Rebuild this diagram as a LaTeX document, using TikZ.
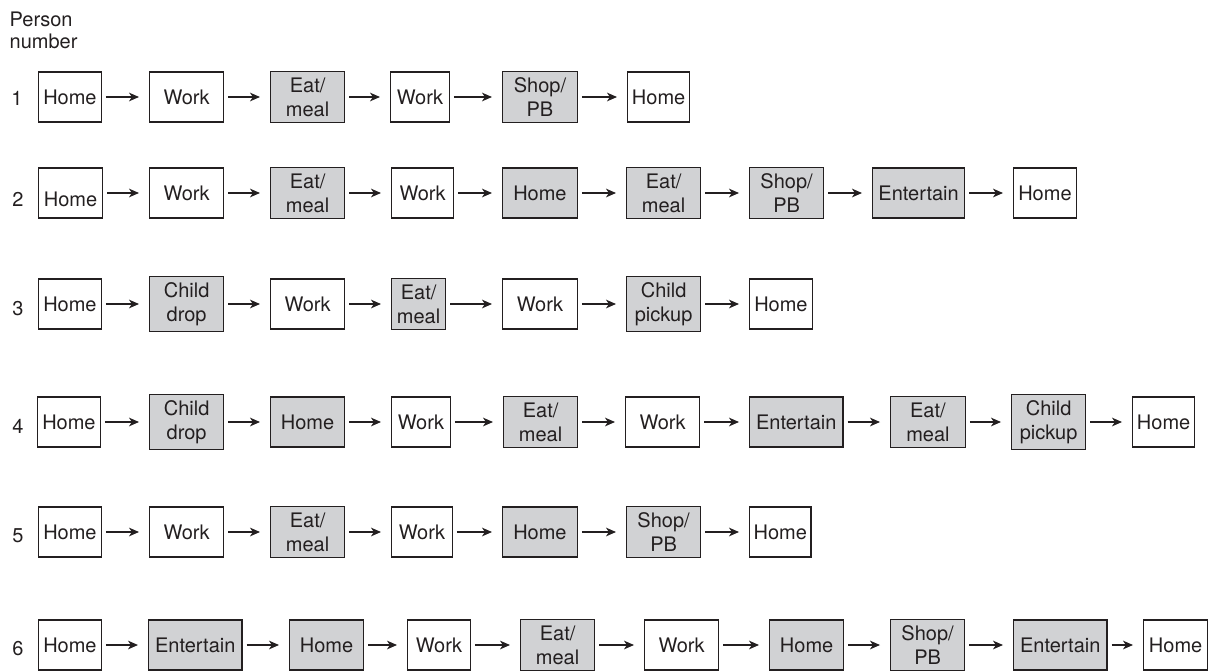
\documentclass[tikz,border=0pt]{standalone}
\usepackage{fontspec}
\setmainfont{TeX Gyre Heros}
\usepackage{tikz}
\usetikzlibrary{arrows.meta}

\definecolor{boxgray}{RGB}{209,210,212}
\definecolor{ink}{RGB}{35,31,32}

\tikzset{
  mainstop/.style={draw=ink, line width=0.9pt, text=ink, anchor=west,
    minimum height=37.5pt, inner xsep=2pt, inner ysep=4.5pt, align=center,
    font=\fontsize{15}{18}\selectfont},
  sidestop/.style={mainstop, fill=boxgray},
  link/.style={draw=ink, line width=0.9pt, shorten <=3pt, shorten >=7.5pt,
    -{Stealth[length=7.5pt, width=6.5pt, inset=2.2pt]}},
  rownum/.style={text=ink, font=\fontsize{15}{18}\selectfont}
}

\begin{document}
\begin{tikzpicture}[x=0.75pt, y=-0.75pt]
        \useasboundingbox (0,0) rectangle (1219,671);

        % Heading
        \node[rownum, anchor=west, align=left, font=\fontsize{15}{16.5}\selectfont] (hdr) at (5,30) {Person\\number};

        % Row numbers
        \node[rownum] (n1) at (17,98) {1};
        \node[rownum] (n2) at (18,199) {2};
        \node[rownum] (n3) at (18,309) {3};
        \node[rownum] (n4) at (18,426) {4};
        \node[rownum] (n5) at (18,536) {5};
        \node[rownum] (n6) at (18,649) {6};

        % Person 1
        \node[mainstop, minimum width=47pt] (p1-1) at (38,97) {Home};
        \node[mainstop, minimum width=55.5pt] (p1-2) at (149,97) {Work};
        \node[sidestop, minimum width=55.5pt] (p1-3) at (270,97) {Eat/\\meal};
        \node[mainstop, minimum width=44pt] (p1-4) at (390,97) {Work};
        \node[sidestop, minimum width=56pt] (p1-5) at (502,97) {Shop/\\PB};
        \node[mainstop, minimum width=46.5pt] (p1-6) at (627,97) {Home};

        % Person 2
        \node[mainstop, minimum width=48pt] (p2-1) at (38,193) {\raisebox{-5pt}[\height][\depth]{Home}};
        \node[mainstop, minimum width=55.5pt] (p2-2) at (149,193) {Work};
        \node[sidestop, minimum width=55.5pt] (p2-3) at (270,193) {Eat/\\meal};
        \node[mainstop, minimum width=46.5pt] (p2-4) at (391,193) {Work};
        \node[sidestop, minimum width=56pt] (p2-5) at (502,193) {Home};
        \node[sidestop, minimum width=55.5pt] (p2-6) at (626,193) {Eat/\\meal};
        \node[sidestop, minimum width=55.5pt] (p2-7) at (749,193) {Shop/\\PB};
        \node[sidestop, minimum width=69pt] (p2-8) at (872,193) {Entertain};
        \node[mainstop, minimum width=47pt] (p2-9) at (1013,193) {Home};

        % Person 3
        \node[mainstop, minimum width=47pt] (p3-1) at (38,304) {Home};
        \node[sidestop, minimum width=55.5pt] (p3-2) at (149,304) {Child\\drop};
        \node[mainstop, minimum width=55.5pt] (p3-3) at (270,304) {Work};
        \node[sidestop, minimum width=40.5pt] (p3-4) at (391,304) {Eat/\\meal};
        \node[mainstop, minimum width=56pt] (p3-5) at (502,304) {Work};
        \node[sidestop, minimum width=55.5pt] (p3-6) at (626,304) {Child\\pickup};
        \node[mainstop, minimum width=47pt] (p3-7) at (749,304) {Home};

        % Person 4
        \node[mainstop, minimum width=47pt] (p4-1) at (37,422) {Home};
        \node[sidestop, minimum width=55.5pt] (p4-2) at (149,422) {Child\\drop};
        \node[sidestop, minimum width=55.5pt] (p4-3) at (270,422) {Home};
        \node[mainstop, minimum width=44pt] (p4-4) at (391,422) {Work};
        \node[sidestop, minimum width=55.5pt] (p4-5) at (503,422) {Eat/\\meal};
        \node[mainstop, minimum width=55.5pt] (p4-6) at (625,422) {Work};
        \node[sidestop, minimum width=70pt] (p4-7) at (749,422) {Entertain};
        \node[sidestop, minimum width=56pt] (p4-8) at (890,422) {Eat/\\meal};
        \node[sidestop, minimum width=55.5pt] (p4-9) at (1011,422) {Child\\pickup};
        \node[mainstop, minimum width=46.5pt] (p4-10) at (1132,422) {Home};

        % Person 5
        \node[mainstop, minimum width=47pt] (p5-1) at (38,532) {Home};
        \node[mainstop, minimum width=55.5pt] (p5-2) at (149,532) {Work};
        \node[sidestop, minimum width=55.5pt] (p5-3) at (270,532) {Eat/\\meal};
        \node[mainstop, minimum width=45.5pt] (p5-4) at (391,532) {Work};
        \node[sidestop, minimum width=56pt] (p5-5) at (502,532) {Home};
        \node[sidestop, minimum width=55.5pt] (p5-6) at (626,532) {Shop/\\PB};
        \node[mainstop, minimum width=46pt] (p5-7) at (749,532) {Home};

        % Person 6
        \node[mainstop, minimum width=47pt] (p6-1) at (38,645) {Home};
        \node[sidestop, minimum width=70pt] (p6-2) at (148,645) {Entertain};
        \node[sidestop, minimum width=55.5pt] (p6-3) at (289,645) {Home};
        \node[mainstop, minimum width=47pt] (p6-4) at (407,645) {Work};
        \node[sidestop, minimum width=55.5pt] (p6-5) at (520,645) {Eat/\\meal};
        \node[mainstop, minimum width=55.5pt] (p6-6) at (644,645) {Work};
        \node[sidestop, minimum width=55.5pt] (p6-7) at (769,645) {Home};
        \node[sidestop, minimum width=55.5pt] (p6-8) at (890,645) {Shop/\\PB};
        \node[sidestop, minimum width=70pt] (p6-9) at (1013,645) {Entertain};
        \node[mainstop, minimum width=48pt] (p6-10) at (1143,645) {Home};

        % Arrows between consecutive stops
        \foreach \p/\m in {1/5,2/8,3/6,4/9,5/6,6/9}
          \foreach \s in {1,...,\m} {
            \pgfmathtruncatemacro\t{\s+1}
            \draw[link] (p\p-\s) -- (p\p-\t);
          }
    \end{tikzpicture}
\end{document}
